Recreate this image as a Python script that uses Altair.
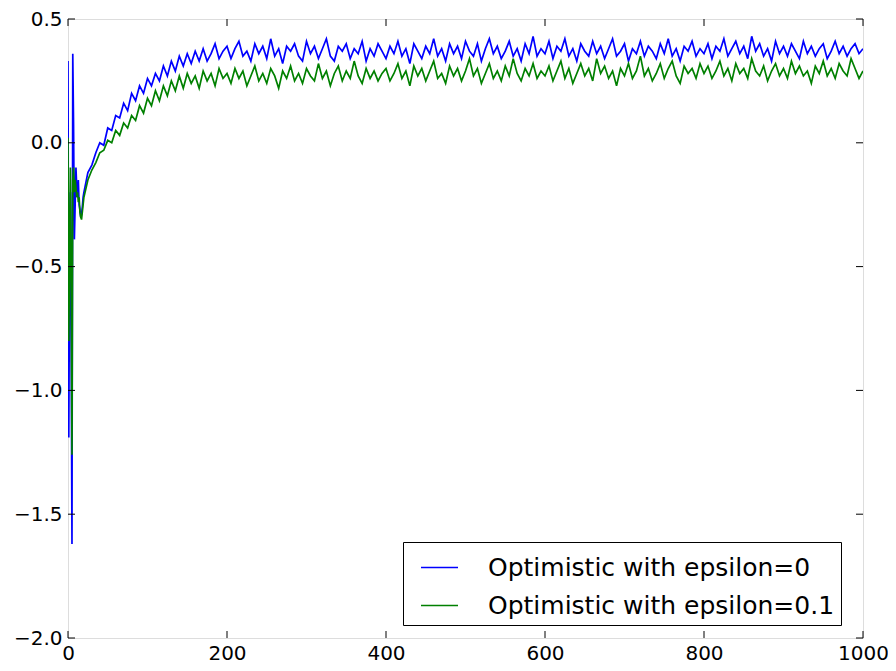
import altair as alt
import pandas as pd

series_names = ["Optimistic with epsilon=0", "Optimistic with epsilon=0.1"]
series_colors = ["#0000ff", "#008000"]

steps_early = list(range(0, 21))
steps_late = list(range(25, 1001, 5))

blue_early = [0.33, -1.19, -0.45, -0.20, -0.80, -1.62, 0.36, 0.07, -0.39, -0.25,
              -0.10, -0.18, -0.22, -0.15, -0.25, -0.27, -0.30, -0.29, -0.26, -0.22, -0.20]
blue_rise = [-0.12, -0.09, -0.04, 0.00, -0.01, 0.06, 0.05, 0.11, 0.10, 0.16,
             0.13, 0.20, 0.17, 0.23, 0.20, 0.26, 0.23, 0.28, 0.25, 0.31,
             0.27, 0.33, 0.29, 0.35, 0.31, 0.36, 0.32, 0.37, 0.33, 0.38,
             0.33, 0.36, 0.40, 0.34, 0.37]
blue_plateau = [
    0.39, 0.34, 0.38, 0.41, 0.35, 0.37, 0.33, 0.40, 0.36, 0.39,
    0.34, 0.42, 0.35, 0.38, 0.32, 0.39, 0.37, 0.40, 0.35, 0.33,
    0.41, 0.36, 0.39, 0.34, 0.38, 0.42, 0.35, 0.33, 0.39, 0.37,
    0.40, 0.34, 0.38, 0.36, 0.41, 0.33, 0.38, 0.35, 0.40, 0.37,
    0.34, 0.39, 0.36, 0.41, 0.35, 0.38, 0.32, 0.40, 0.37, 0.34,
    0.39, 0.36, 0.42, 0.35, 0.38, 0.33, 0.40, 0.36, 0.39, 0.34,
    0.41, 0.37, 0.35, 0.40, 0.33, 0.38, 0.42, 0.36, 0.39, 0.34,
    0.37, 0.41, 0.35, 0.38, 0.33, 0.40, 0.36, 0.43, 0.35, 0.38,
    0.36, 0.41, 0.34, 0.39, 0.37, 0.42, 0.35, 0.38, 0.33, 0.40,
    0.37, 0.35, 0.41, 0.36, 0.39, 0.34, 0.38, 0.42, 0.35, 0.37,
    0.40, 0.33, 0.38, 0.36, 0.41, 0.35, 0.39, 0.37, 0.34, 0.40,
    0.36, 0.42, 0.35, 0.38, 0.33, 0.39, 0.37, 0.41, 0.35, 0.38,
    0.36, 0.40, 0.34, 0.39, 0.37, 0.42, 0.35, 0.38, 0.41, 0.36,
    0.39, 0.34, 0.43, 0.37, 0.40, 0.35, 0.38, 0.33, 0.41, 0.36,
    0.39, 0.35, 0.40, 0.37, 0.34, 0.41, 0.36, 0.39, 0.35, 0.38,
    0.40, 0.34, 0.37, 0.41, 0.36, 0.39, 0.35, 0.38, 0.40, 0.36, 0.38]

green_early = [0.02, -0.80, -0.45, -0.10, -0.60, -1.26, -0.15, -0.10, -0.20, -0.15,
               -0.18, -0.22, -0.20, -0.24, -0.22, -0.28, -0.30, -0.31, -0.28, -0.25, -0.22]
green_rise = [-0.15, -0.11, -0.08, -0.04, -0.03, 0.01, 0.00, 0.05, 0.03, 0.08,
              0.06, 0.11, 0.09, 0.15, 0.12, 0.18, 0.15, 0.21, 0.17, 0.23,
              0.19, 0.25, 0.21, 0.27, 0.22, 0.28, 0.24, 0.27, 0.22, 0.29,
              0.25, 0.28, 0.23, 0.30, 0.26]
green_plateau = [
    0.28, 0.24, 0.30, 0.26, 0.29, 0.23, 0.27, 0.31, 0.25, 0.28,
    0.24, 0.30, 0.27, 0.22, 0.29, 0.26, 0.31, 0.25, 0.28, 0.24,
    0.30, 0.27, 0.25, 0.32, 0.26, 0.29, 0.23, 0.28, 0.31, 0.25,
    0.29, 0.26, 0.33, 0.27, 0.24, 0.30, 0.26, 0.29, 0.25, 0.28,
    0.30, 0.25, 0.28, 0.32, 0.26, 0.29, 0.23, 0.31, 0.27, 0.30,
    0.25, 0.29, 0.33, 0.26, 0.28, 0.24, 0.31, 0.27, 0.30, 0.25,
    0.29, 0.34, 0.27, 0.30, 0.24, 0.28, 0.32, 0.26, 0.29, 0.25,
    0.31, 0.27, 0.34, 0.28, 0.25, 0.30, 0.27, 0.32, 0.26, 0.29,
    0.27, 0.31, 0.25, 0.29, 0.33, 0.26, 0.30, 0.24, 0.28, 0.32,
    0.27, 0.30, 0.25, 0.34, 0.28, 0.31, 0.26, 0.29, 0.23, 0.30,
    0.27, 0.32, 0.26, 0.29, 0.35, 0.27, 0.30, 0.25, 0.28, 0.32,
    0.26, 0.30, 0.33, 0.27, 0.24, 0.31, 0.28, 0.30, 0.26, 0.32,
    0.28, 0.31, 0.26, 0.29, 0.33, 0.27, 0.30, 0.25, 0.32, 0.28,
    0.30, 0.26, 0.34, 0.29, 0.27, 0.31, 0.25, 0.29, 0.32, 0.27,
    0.30, 0.26, 0.33, 0.28, 0.31, 0.27, 0.29, 0.24, 0.31, 0.28,
    0.33, 0.27, 0.30, 0.26, 0.32, 0.29, 0.27, 0.34, 0.30, 0.26, 0.29]

x_ticks = [0, 200, 400, 600, 800, 1000]
y_ticks = [-2.0, -1.5, -1.0, -0.5, 0.0, 0.5]

steps = steps_early + steps_late
blue = blue_early + blue_rise + blue_plateau
green = green_early + green_rise + green_plateau

df_blue = pd.DataFrame({"step": steps, "value": blue, "series": series_names[0]})
df_green = pd.DataFrame({"step": steps, "value": green, "series": series_names[1]})
df_xt = pd.DataFrame({"t": x_ticks})
df_yt = pd.DataFrame({"t": y_ticks})

W, H = 795, 619
FONT = "DejaVu Sans"
TL = 7

xscale = alt.Scale(domain=[0, 1000], nice=False, zero=False)
yscale = alt.Scale(domain=[-2.0, 0.5], nice=False, zero=False)

color = alt.Color(
    "series:N",
    scale=alt.Scale(domain=series_names, range=series_colors),
    legend=alt.Legend(
        title=None, orient="none", legendX=335, legendY=523,
        symbolType="stroke", symbolSize=1369, symbolStrokeWidth=1.5,
        symbolOffset=11,
        labelFontSize=25, labelFont=FONT, labelColor="black",
        labelOffset=29, labelLimit=600, padding=6, rowPadding=5,
        strokeColor="black", fillColor="white", cornerRadius=0,
    ),
)

xaxis = alt.Axis(values=x_ticks, format="d", labelFontSize=20, labelFont=FONT,
                 labelColor="black", labelPadding=5, domain=False, ticks=False,
                 grid=False, title=None, labelFlush=False)
yaxis = alt.Axis(values=y_ticks, format=".1f", labelFontSize=20, labelFont=FONT,
                 labelColor="black", labelPadding=6, domain=False, ticks=False,
                 grid=False, title=None, labelFlush=False)

line_blue = alt.Chart(df_blue).mark_line(strokeWidth=1.7, clip=True).encode(
    x=alt.X("step:Q", scale=xscale, axis=xaxis),
    y=alt.Y("value:Q", scale=yscale, axis=yaxis),
    color=color,
)
line_green = alt.Chart(df_green).mark_line(strokeWidth=1.7, clip=True).encode(
    x=alt.X("step:Q", scale=xscale, axis=xaxis),
    y=alt.Y("value:Q", scale=yscale, axis=yaxis),
    color=color,
)

tick_style = dict(color="black", strokeWidth=1)
yt_left = alt.Chart(df_yt).mark_rule(**tick_style).encode(
    y=alt.Y("t:Q", scale=yscale), x=alt.value(0), x2=alt.value(TL))
yt_right = alt.Chart(df_yt).mark_rule(**tick_style).encode(
    y=alt.Y("t:Q", scale=yscale), x=alt.value(W - TL), x2=alt.value(W))
xt_bottom = alt.Chart(df_xt).mark_rule(**tick_style).encode(
    x=alt.X("t:Q", scale=xscale), y=alt.value(H - TL), y2=alt.value(H))
xt_top = alt.Chart(df_xt).mark_rule(**tick_style).encode(
    x=alt.X("t:Q", scale=xscale), y=alt.value(0), y2=alt.value(TL))

chart = alt.layer(line_blue, line_green, yt_left, yt_right, xt_bottom, xt_top).properties(
    width=W, height=H,
    autosize=alt.AutoSizeParams(type="none"),
    padding={"left": 60, "top": 11, "right": 25, "bottom": 33},
).configure_view(stroke="black", strokeWidth=1.2).configure(background="white")

chart.save("out.html", embed_options={"renderer": "svg", "actions": False})
